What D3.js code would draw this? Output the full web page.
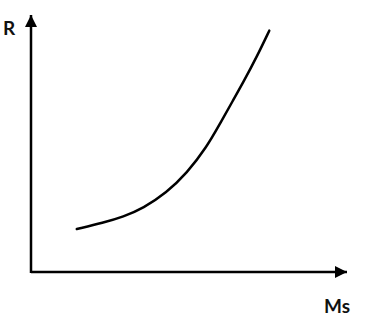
<!DOCTYPE html>
<html>
<head>
<meta charset="utf-8">
<script src="https://cdn.jsdelivr.net/npm/d3@7"></script>
<style>
	html, body { margin: 0; padding: 0; background: #fff; }
	text { font-family: Lato, 'Open Sans', sans-serif; font-weight: bold; fill: #111; }
</style>
</head>
<body>
<div id="chart"></div>
<script>
// curve (arbitrary units, 0-100 on both axes)
const msValues = [14.5, 22.9, 29.2, 35.5, 42.9, 49.3, 55.6, 59.8, 64.0, 67.2, 71.4, 75.4]
const rValues = [16.7, 19.2, 21.5, 24.8, 30.9, 38.4, 48.6, 57.7, 66.9, 73.9, 83.6, 93.9]
const axisLabels = ['Ms', 'R']

const width = 368, height = 317
const origin = {x: 31, y: 272}

const svg = d3.select('#chart')
	.append('svg')
	.attr('width', width)
	.attr('height', height)

const x = d3.scaleLinear().domain([0, 100]).range([origin.x, 347])
const y = d3.scaleLinear().domain([0, 100]).range([origin.y, 15])

// arrowhead
svg.append('defs')
	.append('marker')
	.attr('id', 'arrow')
	.attr('viewBox', '0 0 10 10')
	.attr('refX', 10)
	.attr('refY', 5)
	.attr('markerWidth', 12)
	.attr('markerHeight', 12)
	.attr('markerUnits', 'userSpaceOnUse')
	.attr('orient', 'auto')
	.append('path')
	.attr('d', 'M0,0 L10,5 L0,10 Z')
	.attr('fill', '#000')

// axes
svg.append('line')
	.attr('x1', x(0)).attr('y1', y(0))
	.attr('x2', x(100)).attr('y2', y(0))
	.attr('stroke', '#000').attr('stroke-width', 2.5)
	.attr('marker-end', 'url(#arrow)')

svg.append('line')
	.attr('x1', x(0)).attr('y1', y(0) + 1)
	.attr('x2', x(0)).attr('y2', y(100))
	.attr('stroke', '#000').attr('stroke-width', 2.5)
	.attr('marker-end', 'url(#arrow)')

// labels
svg.append('text')
	.attr('x', 324).attr('y', 313)
	.attr('font-size', 19)
	.text(axisLabels[0])

svg.append('text')
	.attr('x', 3).attr('y', 35)
	.attr('font-size', 19)
	.text(axisLabels[1])

// the curve (basis smooths out the hand-read wobble)
const points = msValues.map((m, i) => [m, rValues[i]])
const line = d3.line()
	.x(d => x(d[0]))
	.y(d => y(d[1]))
	.curve(d3.curveBasis)

svg.append('path')
	.datum(points)
	.attr('d', line)
	.attr('fill', 'none')
	.attr('stroke', '#000')
	.attr('stroke-width', 2.5)
	.attr('stroke-linecap', 'round')
</script>
</body>
</html>
